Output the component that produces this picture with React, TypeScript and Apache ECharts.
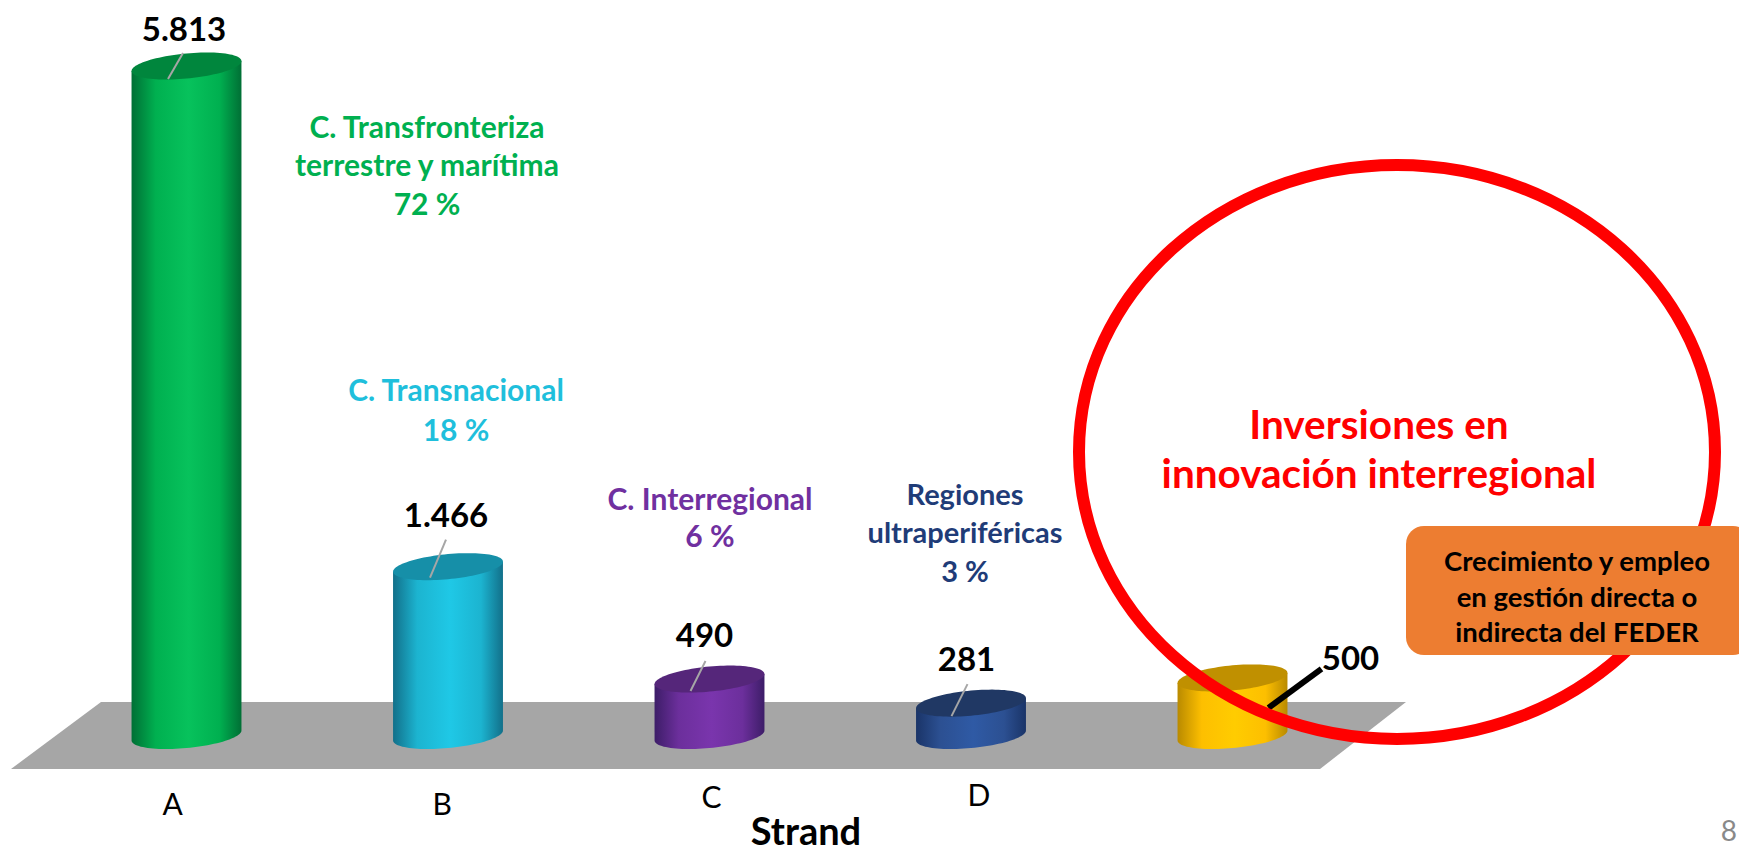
import React, { useEffect, useRef } from "react";
import * as echarts from "echarts";

const categories = ["A", "B", "C", "D", ""];
const values = [5813, 1466, 490, 281, 500];
const valueLabels = ["5.813", "1.466", "490", "281", "500"];

const edgeColors = ["#006f35", "#12708a", "#3d1d68", "#1a3468", "#b98a00"];
const bodyColors = ["#00b050", "#1cb4d0", "#6c2f9c", "#2c5092", "#fdbf00"];
const glowColors = ["#07c25c", "#1fc8e6", "#7a35ad", "#2f5aa5", "#ffcc00"];
const capColors = ["#00863d", "#168fa8", "#55267a", "#203864", "#c09000"];

const FONT = "Lato, Carlito, 'Open Sans', sans-serif";
const CAP_RX = 55.2;
const CAP_RY = 12.5;
const CAP_ROT = (-5.5 * Math.PI) / 180;
const COS = Math.cos(CAP_ROT);
const SIN = Math.sin(CAP_ROT);
const T0 = Math.atan2(-CAP_RY * SIN, CAP_RX * COS);
const STEPS = 48;

const ellipsePoint = (cx: number, cy: number, t: number) => [
  cx + CAP_RX * Math.cos(t) * COS - CAP_RY * Math.sin(t) * SIN,
  cy + CAP_RX * Math.cos(t) * SIN + CAP_RY * Math.sin(t) * COS,
];
// lower half of the tilted ellipse, from its leftmost to its rightmost point
const lowerHalf = (cx: number, cy: number) => {
  const pts: number[][] = [];
  for (let k = 0; k <= STEPS; k++) {
    pts.push(ellipsePoint(cx, cy, T0 + Math.PI - (Math.PI * k) / STEPS));
  }
  return pts;
};
const upperHalf = (cx: number, cy: number) => {
  const pts: number[][] = [];
  for (let k = 0; k <= STEPS; k++) {
    pts.push(ellipsePoint(cx, cy, T0 - (Math.PI * k) / STEPS));
  }
  return pts;
};
const toPath = (pts: number[][]) =>
  pts.map((p, k) => `${k === 0 ? "M" : "L"} ${p[0].toFixed(2)} ${p[1].toFixed(2)}`).join(" ") + " Z";

// leader line ends relative to the cap centre: [x1, y1, x2, y2]
const leaders = [
  [-18.5, 13, -3.5, -13],
  [-18, 11, -2, -27],
  [-19, 12, -4, -18],
  [-19.5, 13, -3.5, -19],
  [36, 30, 89, -9],
];
const leaderColors = ["#a6a6a6", "#a6a6a6", "#a6a6a6", "#a6a6a6", "#000000"];
const leaderWidths = [2, 2, 2, 2, 6];
// value label centre relative to the cap centre
const labelOffsets = [
  [-2.5, -38],
  [-2, -53],
  [-5, -45],
  [-4.5, -45],
  [118, -21],
];

const renderCylinder = (_params: any, api: any) => {
  const i = api.value(0);
  const v = api.value(1);
  const top = api.coord([i, v]);
  const base = api.coord([i, 0]);
  const cx = top[0];
  const bottomEdge = lowerHalf(cx, base[1]);
  const left = bottomEdge[0][0];
  const right = bottomEdge[STEPS][0];
  const topLeft = ellipsePoint(cx, top[1], T0 + Math.PI);
  const topRight = ellipsePoint(cx, top[1], T0);
  const body = toPath([topLeft, ...bottomEdge, topRight]);
  const cap = toPath([...lowerHalf(cx, top[1]), ...upperHalf(cx, top[1]).slice(1, -1)]);
  const lead = leaders[i];
  const off = labelOffsets[i];
  return {
    type: "group",
    children: [
      {
        type: "path",
        shape: { pathData: body },
        style: {
          fill: {
            type: "linear",
            global: true,
            x: left,
            y: 0,
            x2: right,
            y2: 0,
            colorStops: [
              { offset: 0, color: edgeColors[i] },
              { offset: 0.22, color: bodyColors[i] },
              { offset: 0.52, color: glowColors[i] },
              { offset: 0.8, color: bodyColors[i] },
              { offset: 1, color: edgeColors[i] },
            ],
          },
        },
      },
      {
        type: "path",
        shape: { pathData: cap },
        style: { fill: capColors[i] },
      },
      {
        type: "line",
        shape: {
          x1: cx + lead[0],
          y1: top[1] + lead[1],
          x2: cx + lead[2],
          y2: top[1] + lead[3],
        },
        style: { stroke: leaderColors[i], lineWidth: leaderWidths[i] },
      },
      {
        type: "text",
        style: {
          x: cx + off[0],
          y: top[1] + off[1],
          text: valueLabels[i],
          align: "center",
          verticalAlign: "middle",
          fill: "#000000",
          font: `bold 33px ${FONT}`,
        },
      },
    ],
  };
};

const note = (
  x: number,
  y: number,
  text: string,
  fill: string,
  size: number,
  lineHeight: number,
  z = 5
) => ({
  type: "text",
  z,
  x,
  y,
  style: {
    text,
    fill,
    align: "center",
    verticalAlign: "middle",
    textAlign: "center",
    textVerticalAlign: "middle",
    font: `bold ${size}px ${FONT}`,
    lineHeight,
  },
});

const option: any = {
  animation: false,
  backgroundColor: "#ffffff",
  grid: [
    { left: 55.75, top: 66, width: 1307.5, height: 669.5 },
    { left: 38, top: 778, width: 1347, height: 1 },
  ],
  xAxis: [
    { type: "category", data: categories, gridIndex: 0, show: false },
    {
      type: "category",
      data: categories,
      gridIndex: 1,
      axisLine: { show: false },
      axisTick: { show: false },
      splitLine: { show: false },
      axisLabel: {
        interval: 0,
        margin: 0,
        color: "#000000",
        fontFamily: FONT,
        fontSize: 30,
        formatter: (val: string) => (val ? `{p${val}|${val}}` : ""),
        rich: {
          pA: { padding: [9, 0, 0, 0], fontFamily: FONT, fontSize: 30, color: "#000000" },
          pB: { padding: [9, 0, 0, 0], fontFamily: FONT, fontSize: 30, color: "#000000" },
          pC: { padding: [2, 0, 0, 0], fontFamily: FONT, fontSize: 30, color: "#000000" },
          pD: { padding: [0, 4, 0, 0], fontFamily: FONT, fontSize: 30, color: "#000000" },
        },
      },
    },
  ],
  yAxis: [
    { type: "value", min: 0, max: 5813, gridIndex: 0, show: false },
    { type: "value", min: 0, max: 1, gridIndex: 1, show: false },
  ],
  graphic: {
    elements: [
      {
        type: "polygon",
        z: 0,
        shape: { points: [[101, 702], [1406, 702], [1320, 769], [11, 769]] },
        style: { fill: "#a6a6a6" },
      },
      {
        type: "ellipse",
        z: 20,
        shape: { cx: 1397, cy: 452, rx: 318, ry: 287 },
        style: { fill: "none", stroke: "#ff0000", lineWidth: 12 },
      },
      note(427, 126, "C. Transfronteriza", "#00b050", 30, 34),
      note(427, 164, "terrestre y marítima", "#00b050", 30, 34),
      note(427, 203, "72 %", "#00b050", 30, 34),
      note(456, 389, "C. Transnacional", "#1fbfdc", 30, 34),
      note(456, 429, "18 %", "#1fbfdc", 30, 34),
      note(710, 498, "C. Interregional", "#7030a0", 30, 34),
      note(710, 535, "6 %", "#7030a0", 30, 34),
      note(965, 493, "Regiones", "#1f3c78", 29, 34),
      note(965, 531, "ultraperiféricas", "#1f3c78", 29, 34),
      note(965, 570, "3 %", "#1f3c78", 29, 34),
      note(1379, 423, "Inversiones en", "#ff0000", 40.5, 46, 25),
      note(1379, 472, "innovación interregional", "#ff0000", 40.5, 46, 25),
      {
        type: "rect",
        z: 30,
        shape: { x: 1406, y: 526, width: 345, height: 129, r: 18 },
        style: { fill: "#ed7d31" },
      },
      note(1577, 560, "Crecimiento y empleo", "#000000", 27.5, 32, 35),
      note(1577, 596, "en gestión directa o", "#000000", 27.5, 32, 35),
      note(1577, 631, "indirecta del FEDER", "#000000", 27.5, 32, 35),
      note(806, 830, "Strand", "#000000", 38, 38),
      {
        type: "text",
        z: 5,
        x: 1737,
        y: 830,
        style: {
          text: "8",
          fill: "#898989",
          align: "right",
          verticalAlign: "middle",
          textAlign: "right",
          textVerticalAlign: "middle",
          font: `28px ${FONT}`,
        },
      },
    ],
  },
  series: [
    {
      type: "custom",
      xAxisIndex: 0,
      yAxisIndex: 0,
      z: 10,
      clip: false,
      renderItem: renderCylinder,
      data: values.map((v, i) => [i, v]),
    },
  ],
};

export default function App() {
  const ref = useRef<HTMLDivElement>(null);
  useEffect(() => {
    document.body.style.margin = "0";
    const chart = echarts.init(ref.current!, null, { renderer: "svg" });
    chart.setOption(option);
    return () => chart.dispose();
  }, []);
  return (
    <div
      ref={ref}
      style={{ position: "absolute", left: 0, top: 0, width: 1739, height: 855, overflow: "hidden" }}
    />
  );
}
